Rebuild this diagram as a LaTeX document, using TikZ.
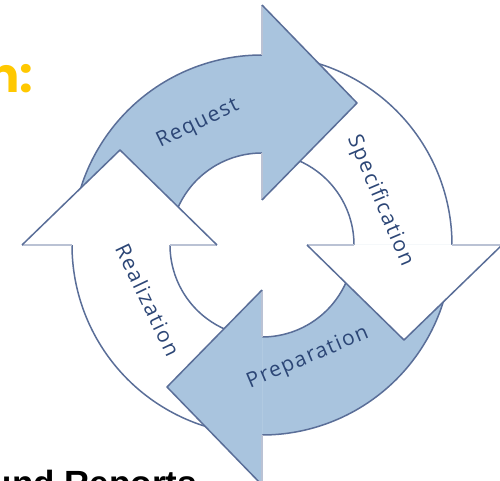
\documentclass[tikz,border=0pt]{standalone}
\usepackage{fontspec}
\setmainfont{Open Sans}
\newfontfamily\labelfont{Open Sans}[LetterSpace=7]
\newfontfamily\headfont{Liberation Sans}
\newfontfamily\calloutfont{Poppins}
\usetikzlibrary{calc}

\definecolor{cyclefill}{RGB}{169,196,222}
\definecolor{cycleline}{RGB}{90,110,152}
\definecolor{stubline}{RGB}{186,194,212}
\definecolor{labeltext}{RGB}{44,70,118}
\definecolor{callout}{RGB}{255,200,0}

\begin{document}
\begin{tikzpicture}[
    font=\labelfont\fontsize{21}{24}\selectfont,
    edge/.style={draw=cycleline,line width=1.5pt,line join=round},
    stub/.style={draw=stubline,line width=1.5pt},
    lbl/.style={text=labeltext,inner sep=0pt}
  ]
  \useasboundingbox (-262pt,-236pt) rectangle (238pt,245pt);

  % quarter rings, each running from the previous arrowhead to its own
  \foreach \b/\c in {90/cyclefill,0/white,-90/cyclefill,180/white}{
    \fill[\c] (\b+90:190pt) arc[start angle=\b+90,end angle=\b-4,radius=190pt]
      -- (\b-4:92pt) arc[start angle=\b-4,end angle=\b+90,radius=92pt] -- cycle;
    \draw[edge] (\b+90:190pt) arc[start angle=\b+90,end angle=\b-4,radius=190pt];
    \draw[edge] (\b+90:92pt) arc[start angle=\b+90,end angle=\b-4,radius=92pt];
  }

  % arrowheads last, so each one hides the tail of the next ring
  \foreach \b/\c in {90/cyclefill,0/white,-90/cyclefill,180/white}{
    \coordinate (tip) at ($(\b:142pt)+(\b-90:95pt)$);
    \fill[\c] (\b:240pt) -- (tip) -- (\b:45pt) -- cycle;
    \draw[stub] (\b:190pt) -- (\b:240pt);
    \draw[stub] (\b:45pt) -- (\b:92pt);
    \draw[edge] (\b:240pt) -- (tip) -- (\b:45pt);
  }

  \node[lbl,rotate=26]    (request) at (-64pt,121pt)  {Request};
  \node[lbl,rotate=-67]   (spec)    at (118pt,44pt)   {Specification};
  \node[lbl,rotate=23]    (prep)    at (46pt,-113pt)  {Preparation};
  \node[lbl,rotate=-64.5] (real)    at (-114pt,-55pt) {Realization};

  % text cut off by the page edges
  \node[anchor=base west,inner sep=0pt,text=callout,
        font=\calloutfont\bfseries\fontsize{48}{54}\selectfont]
       (callout) at (-275pt,152pt) {n:};
  \node[anchor=base east,inner sep=0pt,
        font=\headfont\bfseries\fontsize{35}{40}\selectfont]
       (reports) at (-65pt,-250pt) {und Reports};
\end{tikzpicture}
\end{document}
